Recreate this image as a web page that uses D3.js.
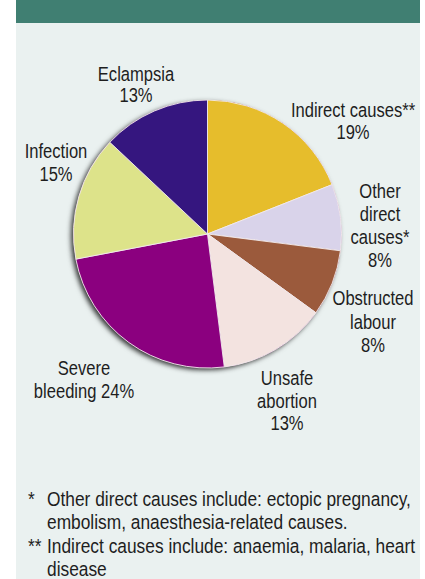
<!DOCTYPE html>
<html>
<head>
<meta charset="utf-8">
<script src="https://cdn.jsdelivr.net/npm/d3@7"></script>
<style>
  html, body { margin: 0; padding: 0; background: #ffffff; }
  svg { display: block; }
  text { font-family: "Liberation Sans", Arial, sans-serif; fill: #1e1e1e; }
</style>
</head>
<body>
<svg id="chart" width="425" height="579"></svg>
<script>
// ---- data ----
const categories = ["Indirect causes**", "Other direct causes*", "Obstructed labour", "Unsafe abortion", "Severe bleeding", "Infection", "Eclampsia"];
const values = [19, 8, 8, 13, 24, 15, 13];
const labelLines = [
  ["Indirect causes**", "19%"],
  ["Other", "direct", "causes*", "8%"],
  ["Obstructed", "labour", "8%"],
  ["Unsafe", "abortion", "13%"],
  ["Severe", "bleeding 24%"],
  ["Infection", "15%"],
  ["Eclampsia", "13%"]
];
const footnotes = [
  ["*", "Other direct causes include: ectopic pregnancy,"],
  ["", "embolism, anaesthesia-related causes."],
  ["**", "Indirect causes include: anaemia, malaria, heart"],
  ["", "disease"]
];

// ---- layout / style ----
const colors = ["#e6bd2c", "#d9d3ea", "#9b5a3c", "#f3e3e0", "#8b007f", "#dde38a", "#35167f"];
const labelLayout = [
  {x: 353, y: 117, lh: 22},
  {x: 380, y: 198, lh: 23},
  {x: 373, y: 305, lh: 23.5},
  {x: 287, y: 385, lh: 22.5},
  {x: 84,  y: 375, lh: 23},
  {x: 56,  y: 158, lh: 23},
  {x: 136, y: 81,  lh: 21}
];
const W = 425, H = 579;
const cx = 207.5, cy = 234, R = 134;
const fs = 19.5, sxLabel = 0.85, sxNote = 0.89;

const svg = d3.select("#chart");

// panel background & header band
svg.append("rect").attr("x", 16).attr("y", 0).attr("width", 404).attr("height", H).attr("fill", "#eaf1f0");
svg.append("rect").attr("x", 16).attr("y", 0).attr("width", 404).attr("height", 23).attr("fill", "#407f72");

// shadow filter
const defs = svg.append("defs");
const f = defs.append("filter").attr("id", "shadow").attr("x", "-20%").attr("y", "-20%").attr("width", "140%").attr("height", "140%");
f.append("feDropShadow").attr("dx", -2.5).attr("dy", 2).attr("stdDeviation", 2.4)
  .attr("flood-color", "#000").attr("flood-opacity", 0.8);

// pie
const data = categories.map((c, i) => ({cat: c, value: values[i], i}));
const pie = d3.pie().value(d => d.value).sort(null);
const arc = d3.arc().innerRadius(0).outerRadius(R);

const g = svg.append("g").attr("transform", `translate(${cx},${cy})`);
g.append("circle").attr("r", R).attr("fill", "#8b007f").attr("filter", "url(#shadow)");
g.selectAll("path.slice")
  .data(pie(data))
  .join("path")
  .attr("class", "slice")
  .attr("d", arc)
  .attr("fill", d => colors[d.data.i])
  .attr("stroke", "#f2ecec")
  .attr("stroke-width", 0.9)
  .attr("stroke-linejoin", "round");

// condensed text helper
function ctext(x, y, str, anchor, sx) {
  svg.append("g").attr("transform", `translate(${x},${y}) scale(${sx},1)`)
    .append("text").attr("text-anchor", anchor).attr("font-size", fs).text(str);
}

// labels
labelLines.forEach((lines, i) => {
  const L = labelLayout[i];
  lines.forEach((ln, j) => ctext(L.x, L.y + j * L.lh, ln, "middle", sxLabel));
});

// footnotes
footnotes.forEach((row, j) => {
  const y = 505.5 + j * 23.5;
  if (row[0]) ctext(28, y, row[0], "start", sxNote);
  ctext(47, y, row[1], "start", sxNote);
});
</script>
</body>
</html>
